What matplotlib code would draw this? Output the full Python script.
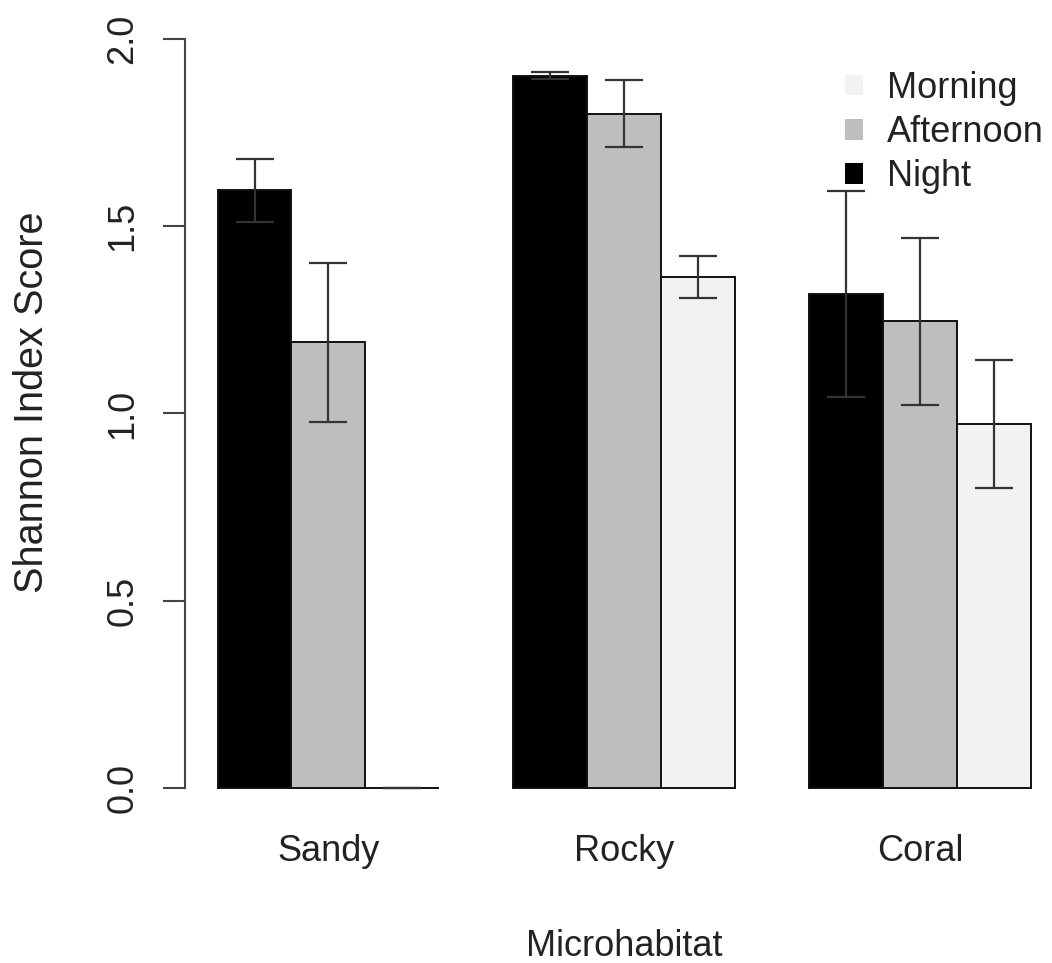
import matplotlib
matplotlib.use("Agg")
import matplotlib.pyplot as plt
from matplotlib.patches import Patch
import numpy as np

plt.rcParams['font.family'] = ['Liberation Sans', 'DejaVu Sans']

# ---------- data ----------
habitats = ['Sandy', 'Rocky', 'Coral']
periods = ['Night', 'Afternoon', 'Morning']
night = [1.596, 1.903, 1.320]
afternoon = [1.190, 1.801, 1.246]
morning = [0.0, 1.365, 0.972]
night_err = [0.084, 0.010, 0.275]
afternoon_err = [0.212, 0.090, 0.224]
morning_err = [0.0, 0.056, 0.172]

colors = {'Night': '#000000', 'Afternoon': '#bebebe', 'Morning': '#f2f2f2'}
INK = '#222222'
LINE = '#444444'

fig = plt.figure(figsize=(10.52, 9.63), dpi=100, facecolor='white')
ax = fig.add_axes([185 / 1052, 0.151, 878.6 / 1052, 0.8393])

# bars laid out like a side-by-side barplot: width 1, one unit gap between groups
values = [night, afternoon, morning]
errors = [night_err, afternoon_err, morning_err]
for g in range(len(habitats)):
    for k, name in enumerate(periods):
        x = 1.5 + g * 4 + k
        ax.bar(x, values[k][g], width=1.0, color=colors[name],
               edgecolor='#111111', linewidth=1.4, zorder=2)
        ax.errorbar(x, values[k][g], yerr=errors[k][g], fmt='none',
                    ecolor='#333333', elinewidth=1.6, capsize=13.5,
                    capthick=1.6, zorder=3)

ax.set_xlim(0.56, 12.44)
ax.set_ylim(-0.08, 2.08)

for s in ['top', 'right', 'bottom']:
    ax.spines[s].set_visible(False)
ax.spines['left'].set_bounds(0, 2)
ax.spines['left'].set_color(LINE)
ax.spines['left'].set_linewidth(1.5)

ax.set_yticks([0, 0.5, 1.0, 1.5, 2.0])
ax.set_yticklabels(['0.0', '0.5', '1.0', '1.5', '2.0'], rotation=90, va='center')
ax.tick_params(axis='y', length=16, width=1.5, color=LINE, labelsize=26,
               labelcolor=INK, pad=16)
ax.set_xticks([2.5, 6.5, 10.5])
ax.set_xticklabels(habitats)
ax.tick_params(axis='x', length=0, labelsize=26, labelcolor=INK, pad=12)

# y title sits a little above the axes centre and runs slightly larger
fig.text(32 / 1052, 1 - 402 / 963, 'Shannon Index Score', rotation=90,
         ha='center', va='center', fontsize=28.5, color=INK)
ax.set_xlabel('Microhabitat', fontsize=26, color=INK, labelpad=43)

handles = [Patch(facecolor=colors[n], edgecolor='none') for n in ['Morning', 'Afternoon', 'Night']]
ax.legend(handles, ['Morning', 'Afternoon', 'Night'], loc='upper left',
          bbox_to_anchor=(0.735, 0.942), frameon=False, fontsize=26,
          handlelength=0.5, handleheight=0.5, handletextpad=0.65,
          labelspacing=0.26, labelcolor=INK, borderaxespad=0)

fig.savefig('out.png', dpi=100, facecolor='white')
